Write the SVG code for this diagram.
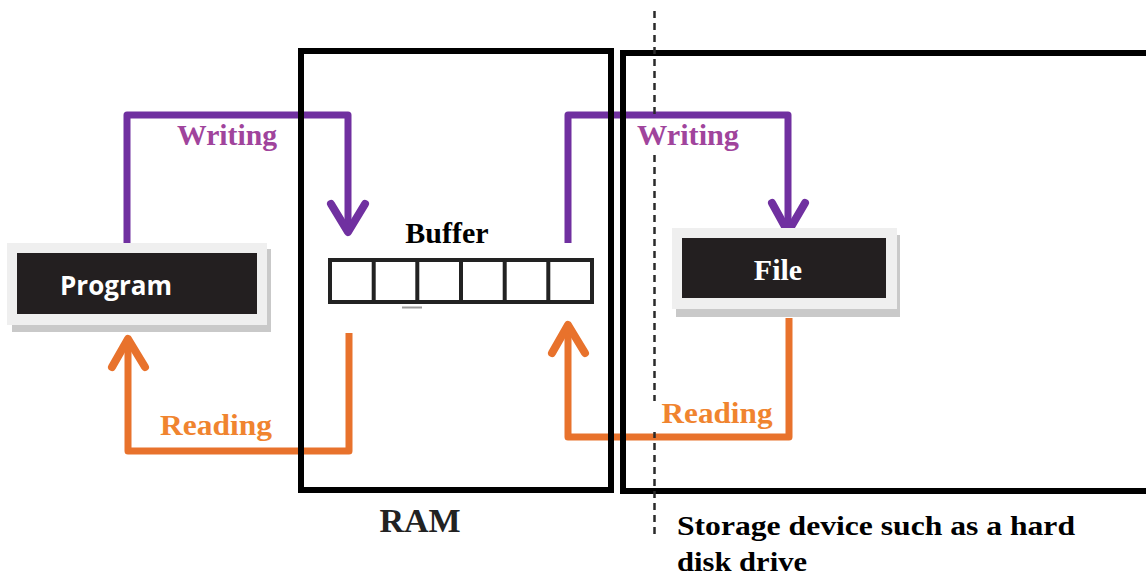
<svg xmlns="http://www.w3.org/2000/svg" width="1146" height="577" viewBox="0 0 1146 577">
  <style>
    .serif { font-family: "Liberation Serif", "Times New Roman", serif; font-weight: bold; }
    .write { fill: #a0449c; font-size: 30px; }
    .read { fill: #f0842f; font-size: 30px; }
    .purple { stroke: #7030a0; }
    .orange { stroke: #e8722c; }
    .flow { fill: none; stroke-width: 7; stroke-linejoin: round; stroke-linecap: butt; }
    .head { fill: none; stroke-width: 8; stroke-linejoin: round; stroke-linecap: round; }
    .frame { fill: none; stroke: #000; stroke-width: 6; }
  </style>

  <rect width="1146" height="577" fill="#fff"/>

  <!-- data flow arrows -->
  <g id="connectors">
    <!-- program -> buffer (writing) -->
    <path class="flow purple" d="M127,243 V115 H348 V229"/>
    <polyline class="head purple" points="331,204 348,232 365,204"/>
    <!-- buffer -> file (writing) -->
    <path class="flow purple" d="M568,243 V115 H788 V229"/>
    <polyline class="head purple" points="772,203 788,232 805,203"/>
    <!-- buffer -> program (reading) -->
    <path class="flow orange" d="M349,333 V451 H128 V342"/>
    <polyline class="head orange" points="112,367 128,339 145,367"/>
    <!-- file -> buffer (reading) -->
    <path class="flow orange" d="M789,318 V437 H568 V327"/>
    <polyline class="head orange" points="552,353 568,325 585,353"/>
  </g>

  <!-- RAM region -->
  <g id="ram">
    <rect class="frame" x="301" y="51" width="310" height="439"/>
    <text class="serif" x="420" y="532" font-size="34" text-anchor="middle" fill="#222">RAM</text>
  </g>

  <!-- storage region -->
  <g id="storage">
    <rect class="frame" x="623" y="53" width="540" height="438"/>
    <text class="serif" font-size="28" fill="#000">
      <tspan x="677" y="535" textLength="398" lengthAdjust="spacingAndGlyphs">Storage device such as a hard</tspan>
      <tspan x="677" y="571" textLength="130" lengthAdjust="spacingAndGlyphs">disk drive</tspan>
    </text>
  </g>

  <!-- boundary between memory and storage -->
  <line id="divider" x1="654.5" y1="11" x2="654.5" y2="538" stroke="#2a2a2a" stroke-width="2.5" stroke-dasharray="7 5"/>

  <!-- arrow labels -->
  <g id="labels">
    <text class="serif write" x="227" y="145" text-anchor="middle" textLength="100" lengthAdjust="spacingAndGlyphs">Writing</text>
    <rect x="648" y="119" width="98" height="33" fill="#fff"/>
    <text class="serif write" x="688" y="145" text-anchor="middle" textLength="102" lengthAdjust="spacingAndGlyphs">Writing</text>
    <text class="serif read" x="216" y="435" text-anchor="middle" textLength="112" lengthAdjust="spacingAndGlyphs">Reading</text>
    <rect x="648" y="401" width="130" height="31" fill="#fff"/>
    <text class="serif read" x="717" y="423" text-anchor="middle" textLength="111" lengthAdjust="spacingAndGlyphs">Reading</text>
  </g>

  <!-- program node -->
  <g id="program">
    <rect x="12" y="249" width="259" height="83" fill="#c9c9c9"/>
    <rect x="7" y="243" width="260" height="82" fill="#efefef"/>
    <rect x="17" y="253" width="240" height="61" fill="#231f20"/>
    <text x="60" y="295" font-family="'Open Sans', 'Liberation Sans', sans-serif" font-weight="700" font-size="26" fill="#fff">Program</text>
  </g>

  <!-- buffer node -->
  <g id="buffer">
    <text class="serif" x="447" y="243" font-size="30" text-anchor="middle" fill="#000">Buffer</text>
    <rect x="330" y="260" width="262" height="42" fill="#fff" stroke="#222" stroke-width="4"/>
    <g stroke="#222" stroke-width="4">
      <line x1="373.7" y1="260" x2="373.7" y2="302"/>
      <line x1="417.3" y1="260" x2="417.3" y2="302"/>
      <line x1="461" y1="260" x2="461" y2="302"/>
      <line x1="504.7" y1="260" x2="504.7" y2="302"/>
      <line x1="548.3" y1="260" x2="548.3" y2="302"/>
    </g>
    <line x1="402" y1="307.5" x2="422" y2="307.5" stroke="#9a9a9a" stroke-width="2"/>
  </g>

  <!-- file node -->
  <g id="file">
    <rect x="676" y="235" width="224" height="82" fill="#c9c9c9"/>
    <rect x="672" y="228" width="225" height="81" fill="#efefef"/>
    <rect x="682" y="238" width="204" height="60" fill="#231f20"/>
    <text class="serif" x="778" y="280" font-size="30" text-anchor="middle" fill="#fff">File</text>
  </g>
</svg>
